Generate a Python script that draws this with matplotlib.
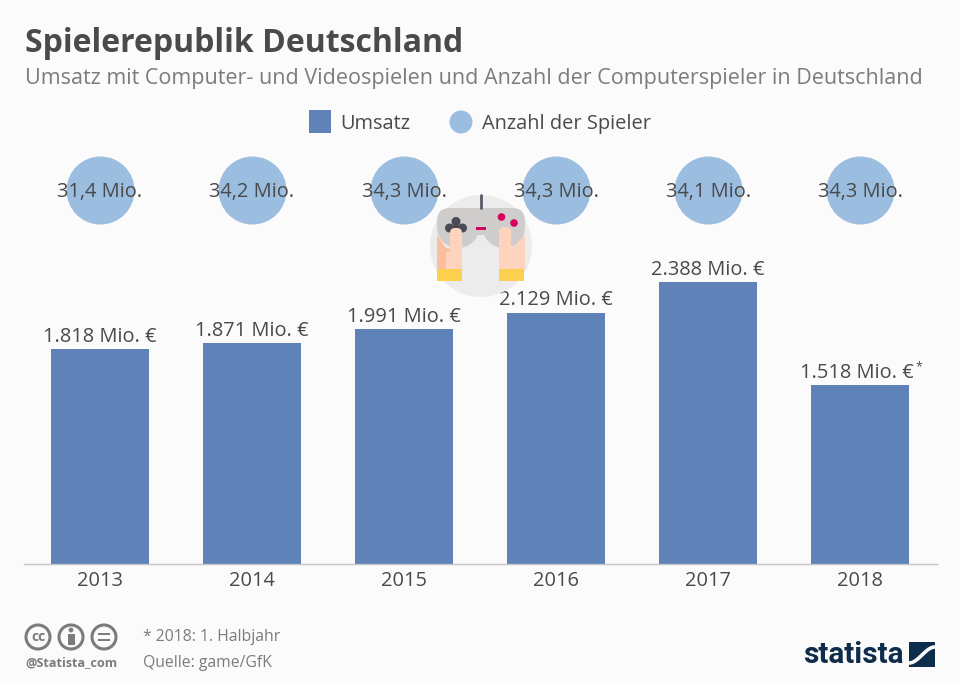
import numpy as np
import matplotlib
matplotlib.use('Agg')
import matplotlib.pyplot as plt
from matplotlib.patches import Circle, Rectangle, FancyBboxPatch, Polygon, Ellipse

years = ['2013', '2014', '2015', '2016', '2017', '2018']
umsatz = [1818, 1871, 1991, 2129, 2388, 1518]
umsatz_labels = ['1.818 Mio. €', '1.871 Mio. €', '1.991 Mio. €', '2.129 Mio. €', '2.388 Mio. €', '1.518 Mio. €']
spieler_labels = ['31,4 Mio.', '34,2 Mio.', '34,3 Mio.', '34,3 Mio.', '34,1 Mio.', '34,3 Mio.']

BG = '#fbfbfb'
BAR = '#5f83b8'
CIRCLE = '#9bbde0'
DARK = '#4a4a4a'
GREY = '#7c7c7c'
W, H = 960, 684

plt.rcParams['font.family'] = ['Open Sans', 'DejaVu Sans']

fig = plt.figure(figsize=(9.6, 6.84), dpi=100, facecolor=BG)

# overlay in pixel coordinates, for the title, footer and icons
ov = fig.add_axes([0, 0, 1, 1], zorder=3)
ov.set_xlim(0, W)
ov.set_ylim(H, 0)
ov.axis('off')
ov.patch.set_alpha(0)

# main chart, baseline at y=564
ax = fig.add_axes([24 / W, (H - 564) / H, (937 - 24) / W, 434 / H], zorder=1)
ax.set_facecolor('none')
ax.set_xlim(-0.5, 5.506)
ax.set_ylim(0, 434 / 0.1181)
xs = np.arange(len(years))
ax.bar(xs, umsatz, width=0.64, color=BAR, zorder=2)
for s in ['top', 'left', 'right']:
    ax.spines[s].set_visible(False)
ax.spines['bottom'].set_color('#c4c4c4')
ax.spines['bottom'].set_linewidth(1)
ax.set_yticks([])
ax.set_xticks(xs)
ax.set_xticklabels(years, fontsize=14.4, color=DARK)
ax.tick_params(axis='x', length=0, pad=5)

for x, v, lab in zip(xs, umsatz, umsatz_labels):
    # last label shares its centre with the footnote star
    dx = -2.2 if x == 5 else 0
    ax.annotate(lab, (x, v), xytext=(dx, 1.5), textcoords='offset points', ha='center', va='bottom',
                fontsize=14.4, color=DARK, zorder=5)
ax.annotate('*', (5, umsatz[5]), xytext=(42.5, 8), textcoords='offset points', ha='center', va='bottom',
            fontsize=9, color=DARK, zorder=5)

# player circles all have the same size, the number is only in the label
circle_tr = ax.get_xaxis_transform()
ax.scatter(xs, [(564 - 190) / 434] * 6, s=(68 * 0.72) ** 2, color=CIRCLE, linewidths=0,
           transform=circle_tr, clip_on=False, zorder=2)
for x, lab in zip(xs, spieler_labels):
    ax.text(x, (564 - 192) / 434, lab, transform=circle_tr, ha='center', va='center',
            fontsize=14.4, color=DARK, zorder=5)

# title
ov.text(25, 44, 'Spielerepublik Deutschland', fontsize=23, fontweight='bold', color=DARK, va='center')
ov.text(25, 78.5, 'Umsatz mit Computer- und Videospielen und Anzahl der Computerspieler in Deutschland',
        fontsize=15.53, color=GREY, va='center')

# legend
ov.add_patch(Rectangle((309, 110), 22, 23, color=BAR, lw=0))
ov.text(340, 124, 'Umsatz', fontsize=14.4, color=DARK, va='center')
ov.add_patch(Circle((461, 122), 11.5, color=CIRCLE, lw=0))
ov.text(482, 124, 'Anzahl der Spieler', fontsize=14.4, color=DARK, va='center')

# gamepad icon
ov.add_patch(Circle((481, 246), 51, color='#ececec', lw=0))
ov.plot([481, 481], [195, 208], color='#5a5a66', lw=2, solid_capstyle='round')
ov.add_patch(FancyBboxPatch((437, 208), 88, 27, boxstyle='round,pad=0,rounding_size=13', color='#cfcdcc', lw=0))
ov.add_patch(Ellipse((458, 228), 42, 40, color='#cfcdcc', lw=0))
ov.add_patch(Ellipse((504, 228), 42, 40, color='#cfcdcc', lw=0))
ov.add_patch(Polygon([[437, 235], [446, 248], [462, 250], [462, 270], [437, 270]], color='#fbbf9e', lw=0))
ov.add_patch(Polygon([[525, 235], [512, 248], [499, 248], [499, 270], [525, 270]], color='#fdd3bd', lw=0))
ov.add_patch(Rectangle((446, 252), 16, 18, color='#fdd3bd', lw=0))
ov.add_patch(Circle((456, 221.5), 4.5, color='#4b4b58', lw=0))
ov.add_patch(Circle((449.5, 228), 4.5, color='#4b4b58', lw=0))
ov.add_patch(Circle((462.5, 228), 4.5, color='#4b4b58', lw=0))
ov.add_patch(Circle((456, 228), 4, color='#4b4b58', lw=0))
ov.add_patch(FancyBboxPatch((450, 228), 12, 42, boxstyle='round,pad=0,rounding_size=5', color='#fdd3bd', lw=0))
ov.add_patch(FancyBboxPatch((499, 227), 12, 43, boxstyle='round,pad=0,rounding_size=5', color='#fdd3bd', lw=0))
ov.add_patch(Rectangle((437, 269), 25, 12, color='#fccf4d', lw=0))
ov.add_patch(Rectangle((499, 269), 25, 12, color='#fccf4d', lw=0))
ov.add_patch(Rectangle((476, 227), 10, 3, color='#d6005f', lw=0))
ov.add_patch(Circle((501.5, 217), 3.8, color='#d6005f', lw=0))
ov.add_patch(Circle((514, 223), 3.8, color='#d6005f', lw=0))

# cc badges
for cx in [38, 71, 104]:
    ov.add_patch(Circle((cx, 637), 12, fill=False, ec=GREY, lw=2.2))
ov.text(38, 637, 'cc', fontsize=10, fontweight='bold', color=GREY, ha='center', va='center')
ov.add_patch(Circle((71, 630), 2.4, color=GREY, lw=0))
ov.add_patch(Rectangle((67.5, 633.5), 7, 11, color=GREY, lw=0))
ov.add_patch(Rectangle((98, 632.5), 12, 2.6, color=GREY, lw=0))
ov.add_patch(Rectangle((98, 638.5), 12, 2.6, color=GREY, lw=0))
ov.text(25, 663, '@Statista_com', fontsize=9.05, fontweight='bold', color=GREY, va='center')

# footer
ov.text(143, 637, '* 2018: 1. Halbjahr', fontsize=11.3, color=GREY, va='center')
ov.text(143, 663, 'Quelle: game/GfK', fontsize=11.3, color=GREY, va='center')

# statista logo
NAVY = '#0e2d4a'
ov.text(803, 655, 'statista', fontsize=21.4, fontweight='bold', color=NAVY, va='center', family='Roboto')
ov.add_patch(Rectangle((909, 642), 26, 25, color=NAVY, lw=0))
t = np.linspace(0, 1, 30)
wave_x = 909 + 26 * t
wave_y = 655 - 8 * np.sin((t - 0.5) * np.pi)
ov.plot(wave_x, wave_y, color=BG, lw=2.6)

fig.savefig('out.png', dpi=100, facecolor=BG)
